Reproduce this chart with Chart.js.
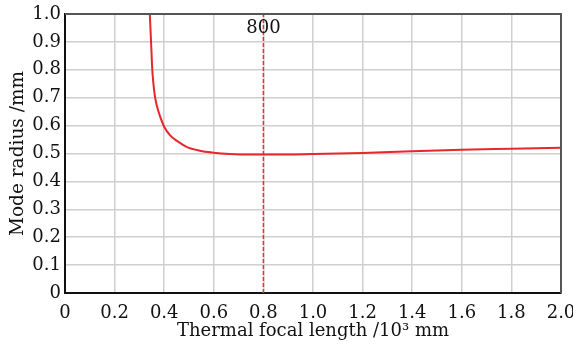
<!DOCTYPE html>
<html>
<head>
<meta charset="utf-8">
<script src="https://cdn.jsdelivr.net/npm/chart.js@4/dist/chart.umd.min.js"></script>
<style>
  html, body { margin: 0; padding: 0; background: #fff; }
  #wrap { width: 573px; height: 345px; }
</style>
</head>
<body>
<div id="wrap"><canvas id="c"></canvas></div>
<script>
// focal length (10^3 mm) vs mode radius (mm)
const focalLength = [0.342, 0.347, 0.352, 0.356, 0.362, 0.370, 0.383, 0.40, 0.423, 0.45, 0.49, 0.544, 0.598, 0.665, 0.75, 0.85, 1.0, 1.2, 1.4, 1.6, 1.8, 2.0];
const modeRadius  = [1.0, 0.9, 0.8, 0.755, 0.708, 0.672, 0.634, 0.596, 0.566, 0.546, 0.524, 0.51, 0.503, 0.498, 0.496, 0.496, 0.498, 0.502, 0.508, 0.513, 0.517, 0.521];
const markerX = 0.8;
const markerLabel = '800';

const FONT = "'DejaVu Serif', serif";
const GRID = '#cfcfcf';

const markerText = {
  id: 'markerText',
  afterDatasetsDraw(chart) {
    const { ctx, scales } = chart;
    ctx.save();
    ctx.font = '18px ' + FONT;
    ctx.fillStyle = '#111';
    ctx.textAlign = 'center';
    ctx.textBaseline = 'middle';
    ctx.fillText(markerLabel, scales.x.getPixelForValue(markerX), scales.y.getPixelForValue(0.95));
    ctx.restore();
  }
};

// dark frame on top and right
const frame = {
  id: 'frame',
  afterDraw(chart) {
    const { ctx, chartArea: a } = chart;
    ctx.save();
    ctx.strokeStyle = '#555';
    ctx.lineWidth = 2;
    ctx.beginPath();
    ctx.moveTo(a.left, a.top);
    ctx.lineTo(a.right, a.top);
    ctx.lineTo(a.right, a.bottom);
    ctx.stroke();
    ctx.restore();
  }
};

new Chart(document.getElementById('c'), {
  type: 'line',
  data: {
    datasets: [
      {
        data: focalLength.map((x, i) => ({ x, y: modeRadius[i] })),
        borderColor: '#e8262b',
        borderWidth: 2,
        pointRadius: 0,
        cubicInterpolationMode: 'monotone',
      },
      {
        data: [{ x: markerX, y: 0 }, { x: markerX, y: 1 }],
        borderColor: '#f03030',
        borderWidth: 1.5,
        borderDash: [4, 2],
        pointRadius: 0,
      },
    ],
  },
  options: {
    responsive: true,
    maintainAspectRatio: false,
    animation: false,
    layout: { padding: { top: 14, right: 12, left: 7, bottom: 3 } },
    plugins: { legend: { display: false }, tooltip: { enabled: false } },
    scales: {
      x: {
        type: 'linear',
        min: 0, max: 2,
        grid: { color: GRID, lineWidth: 1.5, drawTicks: false },
        border: { color: '#111', width: 2 },
        ticks: {
          stepSize: 0.2, padding: 10, color: '#111', maxRotation: 0,
          font: { family: FONT, size: 18 },
          callback: v => v === 0 ? '0' : v.toFixed(1),
        },
        title: { display: true, text: 'Thermal focal length /10³ mm', color: '#111', padding: 0, font: { family: FONT, size: 18 } },
        afterFit: s => { s.height = 49; s.paddingLeft = 0; s.paddingRight = 0; },
      },
      y: {
        min: 0, max: 1,
        grid: { color: GRID, lineWidth: 1.5, drawTicks: false },
        border: { color: '#111', width: 2 },
        ticks: {
          stepSize: 0.1, padding: 4, color: '#111',
          font: { family: FONT, size: 18 },
          callback: v => v === 0 ? '0' : v.toFixed(1),
        },
        title: { display: true, text: 'Mode radius /mm', color: '#111', padding: 0, font: { family: FONT, size: 18.5 } },
        afterFit: s => { s.width = 58; s.paddingTop = 0; s.paddingBottom = 0; },
      },
    },
  },
  plugins: [markerText, frame],
});
</script>
</body>
</html>
